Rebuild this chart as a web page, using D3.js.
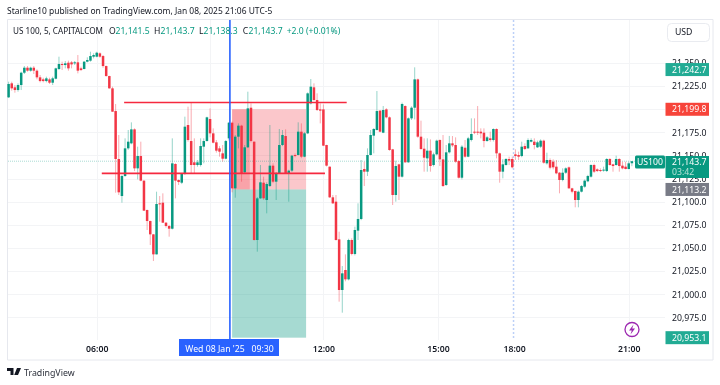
<!DOCTYPE html>
<html>
<head>
<meta charset="utf-8">
<script src="https://cdn.jsdelivr.net/npm/d3@7"></script>
<style>
  html, body { margin: 0; padding: 0; background: #fff; }
  svg { display: block; font-family: "Noto Sans", sans-serif; filter: blur(0.3px); }
</style>
</head>
<body>
<div id="chart"></div>
<script>
// 5 min candles
const opens = [21212.7,21227.8,21223.5,21220.6,21226,21239.3,21244.7,21241.5,21244.7,21241.5,
21234.3,21232.1,21230.3,21232.1,21228.5,21232.8,21243.3,21248.7,21247.6,21250.1,
21250.5,21249.4,21250.5,21244,21243.3,21251.2,21252.3,21256.6,21256.6,21260.2,
21257.3,21246.5,21235.7,21222.4,21197.9,21146.1,21106.1,21127.7,21157.6,21163,
21178.1,21136,21149.3,21122.7,21091,21079.1,21064.7,21043.1,21098.2,21098.9,
21077.3,21073.7,21070.8,21140.7,21123.4,21120.5,21129.9,21182.8,21165.5,21142.5,
21139.6,21139.6,21159.4,21165.5,21189.3,21173.8,21164.1,21157.6,21152.2,21146.4,
21168.4,21185.3,21114.4,21170.2,21182.1,21131.7,21158.7,21201.5,21164.8,21058.6,
21103.6,21120.5,21101.8,21116.9,21138.9,21121.6,21130.6,21161.2,21170.9,21130.6,
21133.5,21150.4,21150.4,21175.6,21148.6,21173.8,21206.2,21223.5,21209.8,21199.7,
21199.7,21161.2,21137.8,21104.7,21100,21059.3,21004.6,21026.2,21016.1,21058.6,
21043.5,21068.7,21081.3,21135.3,21132.4,21150.4,21171.3,21177.4,21198.3,21174.5,
21199.7,21191.1,21156.5,21107.2,21140.3,21127,21203.3,21142.5,21190,21201.5,
21232.1,21170.2,21157.2,21146.8,21155.1,21139.6,21151.1,21166.6,21145.7,21118,
21153.3,21163,21161.2,21143.9,21125.9,21158.3,21148.6,21166.6,21175.6,21175.6,
21175.6,21174.5,21165.5,21168.4,21166.6,21178.5,21152.2,21132.4,21139.6,21146.1,
21146.1,21151.1,21150.4,21149.3,21160.1,21157.6,21164.8,21164.8,21158.7,21159.4,
21165.9,21141.4,21145,21143.2,21137.8,21131.3,21123.4,21131.3,21137.1,21114.4,
21111.5,21101.8,21110.8,21116.2,21122,21127,21139.6,21134.9,21134.2,21133.8,
21133.1,21146.1,21140.3,21139.6,21146.1,21138.9,21137.8,21135.3,21141.5];
const highs = [21229.6,21229.6,21226,21227.8,21240.4,21246.5,21246.5,21245.8,21246.5,21242.9,
21236.8,21233.9,21235,21233.9,21235,21244.7,21256.6,21251.2,21251.9,21252.3,
21251.9,21251.9,21258.4,21245.8,21251.9,21255.9,21262,21260.2,21262,21261.3,
21258.4,21247,21236,21224.2,21205.5,21172,21129,21168.4,21177.4,21185.7,
21179.2,21159.4,21164.8,21123,21091.5,21079.5,21065,21110.8,21106.1,21109,
21078,21075,21168.4,21141.5,21124,21130.5,21191.8,21202.6,21207.3,21168.4,
21145,21168.4,21168.4,21191.8,21200.8,21179.2,21166.6,21160,21161.2,21166.6,
21186,21186.5,21172,21184.6,21183,21161.2,21218.8,21206.2,21165,21105,
21139.6,21127,21121,21182.8,21141.4,21132,21178.5,21177.4,21178.1,21134.5,
21150.5,21152,21185.7,21184.6,21175,21218,21232.5,21227.8,21217,21206.2,
21205,21161.5,21138,21107.2,21107.2,21067.6,21030.5,21043.1,21060,21060.4,
21073,21098.2,21145,21143.2,21157.6,21177.4,21179.5,21219.5,21199,21203.3,
21201,21192,21157,21144.3,21141,21207,21204,21191,21203,21245.1,
21233,21187.5,21168.4,21168.4,21167.3,21153,21167,21167.3,21172,21161.2,
21171,21170.9,21169.5,21145,21161,21166.6,21170,21190,21190,21203.3,
21179.2,21179.2,21170.9,21175.6,21179.2,21179.2,21153,21146,21147,21148.6,
21148.6,21156.5,21154,21164.8,21163,21168.4,21168.4,21168.4,21165.9,21167.3,
21167,21152.9,21146.8,21145.7,21145,21132,21136,21137.1,21138,21115,
21112,21112,21118,21124,21129,21140.3,21141,21136,21136,21137.8,
21147,21147,21141,21149.7,21147,21143.2,21143.2,21143.2,21143.7];
const lows = [21212,21219.9,21217.7,21218.8,21220.6,21237.9,21240.4,21240.4,21237.9,21232.1,
21228.9,21228.9,21228.9,21227.1,21226,21232.1,21242.2,21242.2,21244,21241.5,
21244,21247.6,21238.6,21241.1,21242.9,21250.5,21251.2,21254.8,21255.9,21255.5,
21244.7,21235,21222,21197,21109.7,21107.2,21098.9,21127,21156,21162,
21133,21124.1,21122,21090,21069.4,21053.2,21035.9,21043,21078.4,21077,
21072,21062.2,21070,21103.6,21118,21119,21129,21164.8,21130.6,21130.6,
21137.8,21138,21141.4,21165,21169.5,21163,21153,21148.6,21143.2,21145.7,
21166,21110.1,21104.3,21157.6,21121.6,21130.6,21158,21164,21058,21046,
21103,21102,21087.4,21116,21120,21101.8,21130,21160,21130,21100,
21132,21148,21150,21147,21148,21173,21205,21209,21198,21184.6,
21160,21138,21104,21097.5,21058,20992,20980.1,21014,21015,21042,
21042,21058.6,21080,21116.9,21127.7,21150,21152.2,21177,21175,21174,
21190,21155,21096.4,21100,21101.8,21126,21142,21142,21188.2,21188.9,
21169,21156,21132.4,21132.4,21132.4,21138,21150,21138.5,21116,21117,
21152,21159,21142,21125,21124,21147.5,21148,21165,21173,21172,
21168.4,21158.7,21164.8,21164.8,21165,21146.8,21120.5,21125.2,21139,21139.6,
21136,21145,21145,21148,21155.8,21157,21164,21156.5,21158,21158,
21141,21140,21135,21134.9,21129.6,21109,21122,21130,21114,21109,
21093.9,21093.9,21110,21115,21121,21126,21131,21132,21132,21132.4,
21132,21139,21132.4,21139,21132.4,21135,21134.9,21134.9,21138.3];
const closes = [21227.1,21222.4,21220.6,21226,21239.3,21244.7,21241.5,21244.7,21241.5,21234.3,
21230.3,21230.3,21233.2,21228.5,21233.2,21244,21248.7,21247.6,21249.4,21244,
21248.3,21250.5,21241.5,21242.2,21251.2,21253,21257.3,21258.4,21260.9,21256.6,
21246.5,21235.7,21222.4,21197.2,21146.1,21110.1,21127.7,21157.6,21164.8,21178.1,
21136,21149.3,21122.7,21090.3,21079.1,21064.7,21043.1,21097.5,21097.5,21077.3,
21073.7,21070.8,21141.4,21122.7,21121.2,21129.9,21181,21166.6,21139.6,21139.6,
21142.5,21160.1,21165.5,21191.1,21173.8,21163.7,21155.1,21154,21146.4,21165.5,
21185.3,21114.4,21170.2,21182.1,21130.6,21158.7,21200.8,21165.5,21058.6,21103.6,
21120.9,21103.6,21119.1,21138.9,21121.6,21130.6,21161.2,21172,21130.6,21133.5,
21149.7,21149.3,21175.6,21148.6,21173.8,21217,21224.2,21209.8,21199,21198.3,
21160.5,21138.9,21104.7,21098.2,21058.6,21004.6,21022.6,21016.1,21058.6,21043.5,
21069.4,21081.3,21134.2,21132.4,21150.4,21172,21178.5,21197.9,21175.6,21199,
21191.1,21155.8,21107.2,21138.5,21127,21205.5,21142.5,21190,21201.5,21232.1,
21170.2,21156.9,21147.5,21155.1,21138.5,21151.1,21165.9,21145.7,21116.9,21153.3,
21163,21160.8,21143.2,21125.9,21159.4,21148.6,21168.4,21173.1,21174.5,21174.5,
21173.8,21165.5,21169.5,21166.6,21178.5,21152.2,21132.4,21140.3,21146.1,21144.3,
21137.1,21149.3,21148.6,21159.4,21156.9,21166.6,21166.6,21161.2,21164.1,21165.9,
21142.1,21145,21136.7,21137.1,21130.6,21123.4,21131.3,21136,21114.4,21110.8,
21101.8,21110.8,21116.9,21122.7,21127.7,21139.6,21132.4,21133.1,21133.1,21134.6,
21146.1,21139.6,21138.5,21146.1,21138.5,21136,21135.3,21141.4,21143.7];

const priceTicks = [21250,21225,21200,21175,21150,21125,21100,21075,21050,21025,21000,20975];
// bar number of each time label, 09:00 stays under the cursor label
const timeIdx = [28,100,136.4,160.6,197];
const gridIdx = [28,64,100,136.4,197];
const timeLabels = ['06:00','12:00','15:00','18:00','21:00'];

// drawn on the chart by the author
const resistance = {price: 21207.2, from: 36.7, to: 107.4};
const support = {price: 21130.6, from: 29.6, to: 100.5};
const stopPrice = 21199.8, entryPrice = 21113.2, targetPrice = 20953.1, lastPrice = 21143.7, highLabel = 21242.7;
const boxFrom = 71, boxTo = 94.5, lossTo = 76.6;
const cursorIdx = 70.3, sessionIdx = 160.4;

const width = 720, height = 385;
const red = '#f23645', green = '#089981', gridCol = '#f3f4f6', frameCol = '#e6e8ee', textCol = '#131722';
const paneL = 8, paneR = 665, paneT = 20, paneB = 340, frameB = 360, frameR = 713;
const fontSize = 8.7;

let x = d3.scaleLinear().domain([0, 198]).range([8.6, 631.9]);
let y = d3.scaleLinear().domain([20975, 21250]).range([317.4, 62.8]);

let svg = d3.select('#chart').append('svg')
    .attr('width', width)
    .attr('height', height);

svg.append('rect').attr('width', width).attr('height', height).attr('fill', '#fff');

// frame
svg.append('path')
    .attr('d', `M${paneL-0.5},${paneT-0.5}H${frameR}V${frameB}H${paneL-0.5}Z`)
    .attr('fill', 'none').attr('stroke', frameCol);

// grid
svg.append('g').selectAll('line').data(priceTicks).join('line')
    .attr('x1', paneL).attr('x2', paneR)
    .attr('y1', d => Math.round(y(d)) + 0.5).attr('y2', d => Math.round(y(d)) + 0.5)
    .attr('stroke', gridCol);
svg.append('g').selectAll('line').data(gridIdx).join('line')
    .attr('x1', d => Math.round(x(d)) + 0.5).attr('x2', d => Math.round(x(d)) + 0.5)
    .attr('y1', paneT).attr('y2', paneB)
    .attr('stroke', gridCol);

// session break
svg.append('line')
    .attr('x1', x(sessionIdx)).attr('x2', x(sessionIdx))
    .attr('y1', paneT).attr('y2', paneB)
    .attr('stroke', '#bcd0f7').attr('stroke-width', 1.5).attr('stroke-dasharray', '2,2');

// position tool
let box = svg.append('g');
box.append('rect')
    .attr('x', x(boxFrom)).attr('width', x(boxTo) - x(boxFrom))
    .attr('y', y(stopPrice)).attr('height', y(entryPrice) - y(stopPrice))
    .attr('fill', red).attr('opacity', 0.28);
box.append('rect')
    .attr('x', x(boxFrom)).attr('width', x(lossTo) - x(boxFrom))
    .attr('y', y(stopPrice)).attr('height', y(entryPrice) - y(stopPrice))
    .attr('fill', red).attr('opacity', 0.25);
box.append('rect')
    .attr('x', x(boxFrom)).attr('width', x(boxTo) - x(boxFrom))
    .attr('y', y(entryPrice)).attr('height', y(targetPrice) - y(entryPrice))
    .attr('fill', green).attr('opacity', 0.36);

// current price line
svg.append('line')
    .attr('x1', paneL).attr('x2', paneR)
    .attr('y1', y(lastPrice)).attr('y2', y(lastPrice))
    .attr('stroke', green).attr('stroke-opacity', 0.35).attr('stroke-dasharray', '1,1');

// candles
let candles = svg.append('g').selectAll('g').data(d3.range(opens.length)).join('g');
candles.append('line')
    .attr('x1', d => x(d)).attr('x2', d => x(d))
    .attr('y1', d => y(highs[d])).attr('y2', d => y(lows[d]))
    .attr('stroke', d => closes[d] >= opens[d] ? green : red)
    .attr('stroke-opacity', 0.42)
    .attr('stroke-width', 1);
candles.append('rect')
    .attr('x', d => x(d) - 1.25)
    .attr('width', 2.5)
    .attr('y', d => y(Math.max(opens[d], closes[d])))
    .attr('height', d => Math.max(1, Math.abs(y(opens[d]) - y(closes[d]))))
    .attr('fill', d => closes[d] >= opens[d] ? green : red);

// red lines
[resistance, support].forEach(l => {
    svg.append('line')
        .attr('x1', x(l.from)).attr('x2', x(l.to))
        .attr('y1', y(l.price)).attr('y2', y(l.price))
        .attr('stroke', '#f5293f').attr('stroke-width', 1.6);
});

// cursor line
svg.append('line')
    .attr('x1', x(cursorIdx)).attr('x2', x(cursorIdx))
    .attr('y1', paneT).attr('y2', paneB)
    .attr('stroke', '#2962ff').attr('stroke-width', 1.6);

// price axis, the labels below cover some of these on purpose
let yAxis = svg.append('g')
    .attr('transform', `translate(${paneR},0)`)
    .call(d3.axisRight(y).tickValues(priceTicks).tickFormat(d3.format(',.1f')).tickSize(0).tickPadding(7));
yAxis.select('.domain').remove();
yAxis.selectAll('text').attr('fill', textCol).style('font-size', fontSize + 'px').style('font-family', '"Noto Sans", sans-serif');

// time axis
let xAxis = svg.append('g')
    .attr('transform', `translate(0,${paneB})`)
    .call(d3.axisBottom(x).tickValues(timeIdx).tickFormat((d, i) => timeLabels[i]).tickSize(0).tickPadding(6));
xAxis.select('.domain').remove();
xAxis.selectAll('text').attr('fill', textCol).style('font-size', fontSize + 'px').style('font-weight', 600)
    .style('font-family', '"Noto Sans", sans-serif');

// currency button
svg.append('rect').attr('x', 667.5).attr('y', 23.5).attr('width', 42).attr('height', 18).attr('rx', 4)
    .attr('fill', '#fff').attr('stroke', '#e9ebf0');
svg.append('text').attr('x', 675).attr('y', 35).attr('font-size', fontSize).attr('fill', textCol).text('USD');

// price labels over the axis
function priceLabel(price, col) {
    let cy = y(price);
    svg.append('rect').attr('x', 665.5).attr('y', cy - 6.5).attr('width', 43.5).attr('height', 13)
        .attr('fill', col);
    svg.append('text').attr('x', 672).attr('y', cy + 3.2).attr('font-size', fontSize).attr('fill', '#fff')
        .text(d3.format(',.1f')(price));
}
priceLabel(highLabel, '#22ab94');
priceLabel(stopPrice, '#f7443a');
priceLabel(entryPrice, '#787b86');
priceLabel(targetPrice, '#22ab94');

// last price with countdown
svg.append('rect').attr('x', 665.5).attr('y', 156).attr('width', 43.5).attr('height', 22).attr('fill', green);
svg.append('text').attr('x', 672).attr('y', 165).attr('font-size', fontSize).attr('fill', '#fff')
    .text(d3.format(',.1f')(lastPrice));
svg.append('text').attr('x', 672).attr('y', 175).attr('font-size', fontSize).attr('fill', '#b5e3d8').text('03:42');
svg.append('rect').attr('x', 635).attr('y', 155.5).attr('width', 30).attr('height', 13).attr('rx', 1.5).attr('fill', green);
svg.append('text').attr('x', 650).attr('y', 165).attr('text-anchor', 'middle').attr('font-size', fontSize)
    .attr('fill', '#fff').text('US100');

// cursor time label
svg.append('rect').attr('x', 179).attr('y', 339).attr('width', 100).attr('height', 17).attr('fill', '#2962ff');
svg.append('text').attr('x', 229.5).attr('y', 352).attr('text-anchor', 'middle').attr('font-size', fontSize)
    .attr('fill', '#fff').style('white-space', 'pre').text("Wed 08 Jan '25   09:30");

// bolt badge
svg.append('circle').attr('cx', 632).attr('cy', 329.5).attr('r', 7).attr('fill', '#fff')
    .attr('stroke', '#9c27b0').attr('stroke-width', 1.3);
svg.append('path').attr('d', 'M633.5,324.5 L629,330.5 H631.8 L630.5,334.5 L635,328.5 H632.2 Z').attr('fill', '#9c27b0');

// header
svg.append('text').attr('x', 7).attr('y', 14).attr('font-size', 8.45).attr('fill', textCol)
    .text('Starline10 published on TradingView.com, Jan 08, 2025 21:06 UTC-5');

// legend
function legendText(px, str, col) {
    return svg.append('text').attr('x', px).attr('y', 34).attr('font-size', 8.6).attr('fill', col).text(str);
}
legendText(13, 'US 100, 5, CAPITALCOM', textCol)
    .attr('textLength', 90).attr('lengthAdjust', 'spacingAndGlyphs');
legendText(109, 'O', textCol);
legendText(115.5, '21,141.5', green);
legendText(154, 'H', textCol);
legendText(160.5, '21,143.7', green);
legendText(199, 'L', textCol);
legendText(203.5, '21,138.3', green);
legendText(242.7, 'C', textCol);
legendText(248.5, '21,143.7', green);
legendText(286.7, '+2.0 (+0.01%)', green);

// logo
svg.append('path').attr('d', 'M7,368H13.5V375H10.5V371H7Z M14.2,375L17,368H21L18,375Z').attr('fill', '#131722');
svg.append('text').attr('x', 24).attr('y', 376).attr('font-size', 8.8).attr('fill', '#2a2e39').text('TradingView');
</script>
</body>
</html>
